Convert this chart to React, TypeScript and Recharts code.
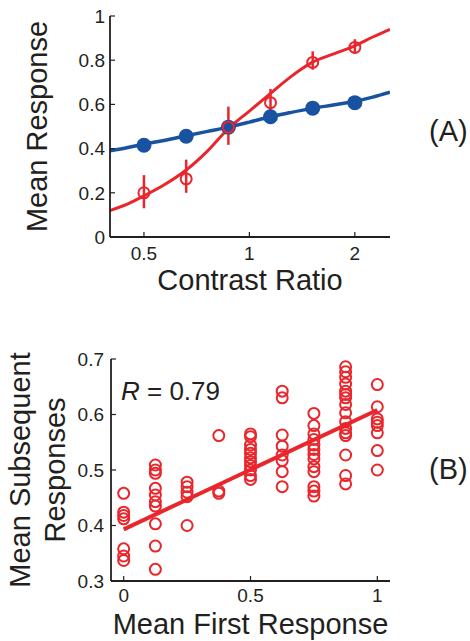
import React from "react"
import { ComposedChart, Scatter, Line, XAxis, YAxis, ErrorBar, Label } from "recharts"

// panel A: mean response vs contrast ratio (log axis)
const contrastRatios = [0.5, 0.66, 0.871, 1.149, 1.516, 2.0]
const meanBlue = [0.415, 0.456, 0.497, 0.544, 0.583, 0.608]
const meanRed = [0.2, 0.263, 0.497, 0.608, 0.79, 0.858]
const redErrLow = [0.07, 0.063, 0.08, 0.052, 0.033, 0.028]
const redErrHigh = [0.08, 0.087, 0.093, 0.062, 0.05, 0.037]

// fitted curves
const fitRatios = [0.4, 0.45, 0.5, 0.57, 0.66, 0.76, 0.87, 1.0, 1.14, 1.3, 1.51, 1.75, 2.0, 2.25, 2.52]
const fitRed = [0.12, 0.15, 0.186, 0.235, 0.303, 0.39, 0.49, 0.57, 0.645, 0.72, 0.79, 0.83, 0.865, 0.905, 0.94]
const fitBlue = [0.39, 0.405, 0.42, 0.437, 0.458, 0.478, 0.497, 0.52, 0.543, 0.562, 0.582, 0.598, 0.614, 0.633, 0.655]

const ratioTicks = [0.5, 1, 2]
const responseTicks = [0, 0.2, 0.4, 0.6, 0.8, 1]

// panel B: mean subsequent responses vs mean first response
const firstLevels = [0, 0.125, 0.25, 0.375, 0.5, 0.625, 0.75, 0.875, 1]
const subsequentByLevel = [
  [0.458, 0.424, 0.418, 0.412, 0.358, 0.345, 0.337],
  [0.509, 0.5, 0.494, 0.467, 0.455, 0.443, 0.435, 0.403, 0.363, 0.321],
  [0.478, 0.47, 0.46, 0.452, 0.4],
  [0.562, 0.462, 0.458],
  [0.565, 0.56, 0.545, 0.537, 0.53, 0.522, 0.515, 0.508, 0.5, 0.49, 0.483],
  [0.642, 0.63, 0.563, 0.543, 0.527, 0.517, 0.497, 0.47],
  [0.602, 0.58, 0.565, 0.555, 0.545, 0.537, 0.528, 0.52, 0.506, 0.497, 0.47, 0.462, 0.453],
  [0.686, 0.677, 0.667, 0.655, 0.642, 0.636, 0.63, 0.618, 0.603, 0.587, 0.575, 0.567, 0.562, 0.527, 0.49, 0.475],
  [0.654, 0.614, 0.592, 0.586, 0.58, 0.567, 0.535, 0.5],
]
const fitFirst = [0, 1]
const fitSubsequent = [0.393, 0.608]

const firstTicks = [0, 0.5, 1]
const subsequentTicks = [0.3, 0.4, 0.5, 0.6, 0.7]

const RED = "#e9262c"
const BLUE = "#1a52a2"
const INK = "#231f20"
const FONT = "'Liberation Sans', Arial, Helvetica, sans-serif"

const blueData = contrastRatios.map((x, i) => ({ x, y: meanBlue[i] }))
const redData = contrastRatios.map((x, i) => ({ x, y: meanRed[i], err: [redErrLow[i], redErrHigh[i]] }))
const redFit = fitRatios.map((x, i) => ({ x, y: fitRed[i] }))
const blueFit = fitRatios.map((x, i) => ({ x, y: fitBlue[i] }))

const scatterData = firstLevels.flatMap((x, i) => subsequentByLevel[i].map((y) => ({ x, y })))
const regression = fitFirst.map((x, i) => ({ x, y: fitSubsequent[i] }))

const openCircle = (props: any) => (
  <circle cx={props.cx} cy={props.cy} r={5.5} fill="none" stroke={RED} strokeWidth={2} />
)
const filledDot = (props: any) => <circle cx={props.cx} cy={props.cy} r={7.5} fill={BLUE} />

const axisLine = { stroke: INK, strokeWidth: 1.8 }
const tickLine = { stroke: INK, strokeWidth: 1.2 }
const tickFont = { fontSize: 19, fill: INK }
const titleStyle = { fontSize: 29, fill: INK, textAnchor: "middle" as const }

const App = () => {
  return (
    <div style={{ position: "absolute", left: 0, top: 0, width: 470, height: 641, background: "#fff", fontFamily: FONT }}>
      <div style={{ position: "absolute", left: 0, top: 0 }}>
        <ComposedChart width={470} height={300} margin={{ top: 16, right: 80, bottom: 0, left: 0 }}>
          <XAxis
            dataKey="x"
            type="number"
            scale="log"
            domain={[0.4, 2.52]}
            allowDataOverflow
            ticks={ratioTicks}
            interval={0}
            height={63}
            tickSize={-5}
            tickMargin={15}
            tick={tickFont}
            axisLine={axisLine}
            tickLine={tickLine}
          >
            <Label value="Contrast Ratio" position="insideBottom" offset={10} style={titleStyle} />
          </XAxis>
          <XAxis
            xAxisId="top"
            orientation="top"
            type="number"
            scale="log"
            domain={[0.4, 2.52]}
            allowDataOverflow
            ticks={ratioTicks}
            interval={0}
            height={0}
            tickSize={-5}
            tick={false}
            axisLine={axisLine}
            tickLine={tickLine}
          />
          <YAxis
            dataKey="y"
            type="number"
            domain={[0, 1]}
            ticks={responseTicks}
            interval={0}
            width={110}
            tickSize={-5}
            tickMargin={10}
            tick={tickFont}
            axisLine={axisLine}
            tickLine={tickLine}
          >
            <Label value="Mean Response" angle={-90} position="insideLeft" offset={37} style={titleStyle} />
          </YAxis>
          <YAxis
            yAxisId="right"
            orientation="right"
            type="number"
            domain={[0, 1]}
            ticks={responseTicks}
            interval={0}
            width={0}
            tickSize={-5}
            tick={false}
            axisLine={axisLine}
            tickLine={tickLine}
          />
          <Line data={blueFit} dataKey="y" type="monotone" stroke={BLUE} strokeWidth={3.5} dot={false} isAnimationActive={false} />
          <Scatter data={blueData} dataKey="y" shape={filledDot} isAnimationActive={false} />
          <Line data={redFit} dataKey="y" type="monotone" stroke={RED} strokeWidth={3} dot={false} isAnimationActive={false} />
          <Scatter data={redData} dataKey="y" shape={openCircle} isAnimationActive={false}>
            <ErrorBar dataKey="err" direction="y" width={0} stroke={RED} strokeWidth={2.5} isAnimationActive={false} />
          </Scatter>
        </ComposedChart>
      </div>
      <div style={{ position: "absolute", left: 429, top: 114, fontSize: 29, color: INK, lineHeight: "34px" }}>(A)</div>

      <div style={{ position: "absolute", left: 0, top: 330 }}>
        <ComposedChart width={470} height={311} margin={{ top: 29, right: 80, bottom: 0, left: 0 }}>
          <XAxis
            dataKey="x"
            type="number"
            domain={[-0.05, 1.05]}
            allowDataOverflow
            ticks={firstTicks}
            interval={0}
            height={60}
            tickSize={-5}
            tickMargin={13}
            tick={tickFont}
            axisLine={axisLine}
            tickLine={tickLine}
          >
            <Label value="Mean First Response" position="insideBottom" offset={7} style={titleStyle} />
          </XAxis>
          <XAxis
            xAxisId="top"
            orientation="top"
            type="number"
            domain={[-0.05, 1.05]}
            allowDataOverflow
            ticks={firstTicks}
            interval={0}
            height={0}
            tickSize={-5}
            tick={false}
            axisLine={axisLine}
            tickLine={tickLine}
          />
          <YAxis
            dataKey="y"
            type="number"
            domain={[0.3, 0.7]}
            allowDataOverflow
            ticks={subsequentTicks}
            interval={0}
            width={111}
            tickSize={-5}
            tickMargin={12}
            tick={tickFont}
            axisLine={axisLine}
            tickLine={tickLine}
          >
            <Label value="Mean Subsequent" angle={-90} position="insideLeft" offset={20} style={titleStyle} />
            <Label value="Responses" angle={-90} position="insideLeft" offset={55} style={titleStyle} />
          </YAxis>
          <YAxis
            yAxisId="right"
            orientation="right"
            type="number"
            domain={[0.3, 0.7]}
            ticks={subsequentTicks}
            interval={0}
            width={0}
            tickSize={-5}
            tick={false}
            axisLine={axisLine}
            tickLine={tickLine}
          />
          <Scatter data={scatterData} dataKey="y" shape={openCircle} isAnimationActive={false} />
          <Line data={regression} dataKey="y" type="linear" stroke={RED} strokeWidth={4} dot={false} isAnimationActive={false} />
        </ComposedChart>
      </div>
      <div style={{ position: "absolute", left: 121, top: 376, fontSize: 26, color: INK, lineHeight: "30px", whiteSpace: "nowrap" }}>
        <i>R</i> = 0.79
      </div>
      <div style={{ position: "absolute", left: 429, top: 452, fontSize: 29, color: INK, lineHeight: "34px" }}>(B)</div>
    </div>
  )
}

export default App
